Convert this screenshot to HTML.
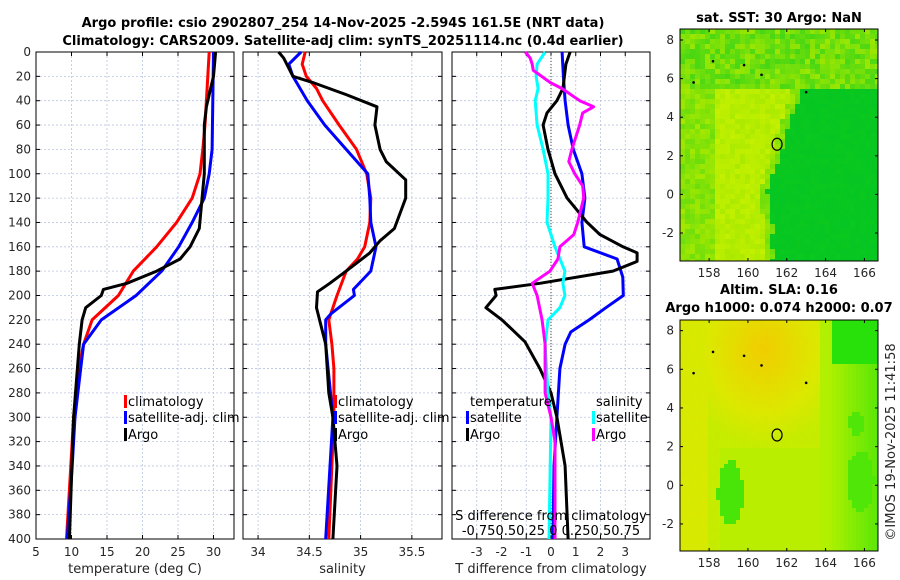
<!DOCTYPE html>
<html><head><meta charset="utf-8">
<style>
html,body{margin:0;padding:0;background:#fff;}
svg{display:block;font-family:"DejaVu Sans","Liberation Sans",sans-serif;}
.tk{font-size:12px;fill:#262626;}
.ttl{font-size:13px;font-weight:bold;fill:#000;}
.lg{font-size:13px;fill:#000;}
</style></head>
<body>
<svg id="fig" width="900" height="580" viewBox="0 0 900 580" xmlns="http://www.w3.org/2000/svg">
<text class="ttl" x="343" y="27" text-anchor="middle">Argo profile: csio 2902807_254 14-Nov-2025 -2.594S 161.5E (NRT data)</text>
<text class="ttl" x="343" y="45" text-anchor="middle">Climatology: CARS2009. Satellite-adj clim: synTS_20251114.nc (0.4d earlier)</text>
<text class="ttl" x="779" y="22" text-anchor="middle">sat. SST: 30 Argo: NaN</text>
<text class="ttl" x="779" y="294" text-anchor="middle">Altim. SLA: 0.16</text>
<text class="ttl" x="779" y="312" text-anchor="middle">Argo h1000: 0.074 h2000: 0.07</text>
<text class="tk" x="0" y="0" transform="translate(895,442) rotate(-90)" text-anchor="middle" style="font-size:13px">©IMOS 19-Nov-2025 11:41:58</text>
<g id="plots"></g>
</svg>
<script>
// ---- data (depth in m) ----
const tClimDepth = [0,20,60,80,100,120,140,160,180,200,220,240,260,300,340,400];
const tClimVals  = [29.4,29.2,28.8,28.5,28.1,27.0,24.8,22.0,18.7,16.6,12.9,11.7,11.0,10.3,9.9,9.3];
const tSatDepth  = [0,80,100,120,140,160,180,200,220,240,260,300,340,400];
const tSatVals   = [30.0,29.8,29.4,28.7,27.0,25.1,22.7,19.1,14.2,11.7,11.3,10.5,10.1,9.4];
const tArgoDepth = [0,20,30,45,60,100,145,160,170,180,190,195,200,210,220,240,300,400];
const tArgoVals  = [30.3,30.0,29.6,29.0,28.7,28.7,28.0,26.7,25.3,22.0,17.8,14.5,14.2,12.0,11.5,11.1,10.3,9.7];

const sClimDepth = [0,10,20,30,40,60,80,100,120,140,160,170,180,200,220,240,260,300,400];
const sClimVals  = [34.46,34.43,34.47,34.57,34.63,34.79,34.96,35.06,35.10,35.09,35.04,34.97,34.86,34.77,34.69,34.72,34.74,34.74,34.69];
const sSatDepth  = [0,10,20,40,60,80,100,120,140,160,180,195,200,215,220,240,300,400];
const sSatVals   = [34.42,34.30,34.34,34.48,34.65,34.86,35.07,35.09,35.10,35.15,35.10,34.93,34.94,34.71,34.66,34.66,34.73,34.66];
const sArgoDepth = [0,5,10,20,25,35,45,60,80,90,105,120,145,155,165,180,190,197,210,240,280,300,340,400];
const sArgoVals  = [34.20,34.25,34.28,34.34,34.53,34.86,35.16,35.14,35.19,35.25,35.44,35.44,35.33,35.19,35.09,34.86,34.70,34.58,34.57,34.66,34.69,34.73,34.77,34.73];

const dTSatDepth  = [0,20,40,60,80,100,120,140,160,170,185,200,210,220,230,240,260,300,340,400];
const dTSatVals   = [0.45,0.5,0.57,0.69,0.9,1.25,1.37,1.25,1.34,2.67,2.9,2.92,2.22,1.54,0.8,0.57,0.36,0.24,0.12,0.08];
const dTArgoDepth = [0,10,30,40,50,60,80,100,120,140,150,160,165,172,180,190,195,200,210,220,238,260,280,300,340,400];
const dTArgoVals  = [0.77,0.6,0.48,0.24,-0.16,-0.32,-0.12,0.16,0.65,1.46,1.98,2.91,3.48,3.48,2.5,-0.45,-2.27,-2.22,-2.63,-1.98,-1.05,-0.45,0,0.24,0.57,0.69];
const dSSatDepth  = [0,10,20,30,40,60,80,100,120,140,160,180,190,200,210,220,240,280,300,400];
const dSSatVals   = [-0.06,-0.14,-0.15,-0.13,-0.16,-0.14,-0.08,-0.03,-0.03,-0.04,0.04,0.14,0.12,0.14,0.09,-0.03,-0.06,-0.03,0,-0.02];
const dSArgoDepth = [0,5,10,15,25,30,40,45,50,60,80,90,100,110,120,140,150,160,170,180,190,200,220,240,280,300,320,400];
const dSArgoVals  = [-0.26,-0.21,-0.19,-0.18,-0.01,0.11,0.29,0.43,0.32,0.29,0.21,0.18,0.24,0.32,0.33,0.27,0.23,0.09,0.07,-0.01,-0.19,-0.14,-0.09,-0.06,-0.06,0,0.04,0.04];

const depthTicks = [0,20,40,60,80,100,120,140,160,180,200,220,240,260,280,300,320,340,360,380,400];
const tempTicks = [5,10,15,20,25,30];
const salTicks = [34,34.5,35,35.5];
const diffTicks = [-3,-2,-1,0,1,2,3];
const lonTicks = [158,160,162,164,166];
const latTicks = [8,6,4,2,0,-2];

const NS='http://www.w3.org/2000/svg';
const root=document.getElementById('plots');
function mk(tag,attrs,parent){const e=document.createElementNS(NS,tag);for(const k in attrs)e.setAttribute(k,attrs[k]);(parent||root).appendChild(e);return e;}
const Y0=52,Y1=539;
const yD=d=>Y0+(d/400)*(Y1-Y0);

function panel(name,x0,x1,vmin,vmax,xticks,xlab,showY){
  const g=mk('g',{});
  
  
  const xs=v=>x0+(v-vmin)/(vmax-vmin)*(x1-x0);
  xticks.forEach(v=>{const l=mk('line',{x1:xs(v),x2:xs(v),y1:Y0,y2:Y1,stroke:'#b8c4e0','stroke-width':0.8,'stroke-dasharray':'2,2'},g);
    });
  depthTicks.forEach(d=>{const l=mk('line',{x1:x0,x2:x1,y1:yD(d),y2:yD(d),stroke:'#b8c4e0','stroke-width':0.8,'stroke-dasharray':'2,2'},g);
    
    mk('line',{x1:x0,x2:x0+4,y1:yD(d),y2:yD(d),stroke:'#000'},g);mk('line',{x1:x1,x2:x1-4,y1:yD(d),y2:yD(d),stroke:'#000'},g);
    if(showY){const t=mk('text',{x:x0-5,y:yD(d)+4,'text-anchor':'end',class:'tk'},g);t.textContent=d;
      }});
  xticks.forEach(v=>{mk('line',{x1:xs(v),x2:xs(v),y1:Y1,y2:Y1-4,stroke:'#000'},g);mk('line',{x1:xs(v),x2:xs(v),y1:Y0,y2:Y0+4,stroke:'#000'},g);
    const t=mk('text',{x:xs(v),y:556,'text-anchor':'middle',class:'tk'},g);t.textContent=v;
    });
  const xl=mk('text',{x:(x0+x1)/2,y:573,'text-anchor':'middle',class:'tk',style:'font-size:13px'},g);xl.textContent=xlab;
  
  mk('rect',{x:x0,y:Y0,width:x1-x0,height:Y1-Y0,fill:'none',stroke:'#000','stroke-width':1},g);
  return {g,xs};
}
function line(p,depths,vals,color,name){
  const pts=depths.map((d,i)=>p.xs(vals[i]).toFixed(1)+','+yD(d).toFixed(1)).join(' ');
  const l=mk('polyline',{points:pts,fill:'none',stroke:color,'stroke-width':3,'stroke-linejoin':'round'},p.g);
  
  
}
function legendEntry(g,x,y,color,label,name){
  if(color)mk('rect',{x:x-4,y:y-11,width:3,height:13,fill:color},g);
  const t=mk('text',{x:x,y:y,class:'lg'},g);t.textContent=label;
  
  
}

const p1=panel('temperature-panel',36,234,5,32.89,tempTicks,'temperature (deg C)',true);
line(p1,tClimDepth,tClimVals,'#ff0000','temp-climatology-line');
line(p1,tSatDepth,tSatVals,'#0000ff','temp-satellite-line');
line(p1,tArgoDepth,tArgoVals,'#000000','temp-argo-line');
legendEntry(p1.g,128,406,'#ff0000','climatology','legend-entry-climatology');
legendEntry(p1.g,128,422,'#0000ff','satellite-adj. clim','legend-entry-satellite');
legendEntry(p1.g,128,439,'#000000','Argo','legend-entry-argo');

const p2=panel('salinity-panel',243,442,33.853,35.794,salTicks,'salinity',false);
line(p2,sClimDepth,sClimVals,'#ff0000','sal-climatology-line');
line(p2,sSatDepth,sSatVals,'#0000ff','sal-satellite-line');
line(p2,sArgoDepth,sArgoVals,'#000000','sal-argo-line');
legendEntry(p2.g,338,406,'#ff0000','climatology','legend-entry-climatology');
legendEntry(p2.g,338,422,'#0000ff','satellite-adj. clim','legend-entry-satellite');
legendEntry(p2.g,338,439,'#000000','Argo','legend-entry-argo');

const p3=panel('difference-panel',452,650,-4,4,diffTicks,'T difference from climatology',false);
const zl=mk('line',{x1:p3.xs(0),x2:p3.xs(0),y1:Y0,y2:Y1,stroke:'#444','stroke-width':1,'stroke-dasharray':'1,2'},p3.g);

const p3s={g:p3.g,xs:v=>p3.xs(v*4)};
line(p3,dTSatDepth,dTSatVals,'#0000ff','dT-satellite-line');
line(p3,dTArgoDepth,dTArgoVals,'#000000','dT-argo-line');
line(p3s,dSSatDepth,dSSatVals,'#00ffff','dS-satellite-line');
line(p3s,dSArgoDepth,dSArgoVals,'#ff00ff','dS-argo-line');
legendEntry(p3.g,470,406,null,'temperature','legend-title-temperature');
legendEntry(p3.g,470,422,'#0000ff','satellite','legend-entry-t-satellite');
legendEntry(p3.g,470,439,'#000000','Argo','legend-entry-t-argo');
legendEntry(p3.g,596,406,null,'salinity','legend-title-salinity');
legendEntry(p3.g,596,422,'#00ffff','satellite','legend-entry-s-satellite');
legendEntry(p3.g,596,439,'#ff00ff','Argo','legend-entry-s-argo');
{const t=mk('text',{x:551,y:520,'text-anchor':'middle',class:'lg'},p3.g);t.textContent='S difference from climatology';
 
 const t2=mk('text',{x:551,y:535,'text-anchor':'middle',class:'lg'},p3.g);t2.textContent='-0.750.50.25 0 0.250.50.75';
 }

// maps (background imagery texture)
function hash(i,j){let h=(i*374761393+j*668265263)|0;h=Math.imul(h^(h>>>13),1274126177);h^=h>>>16;return (h>>>0)/4294967296;}
function mix(a,b,t){t=Math.max(0,Math.min(1,t));return a.map((v,k)=>Math.round(v+(b[k]-v)*t));}
function map(name,y0,y1,latTop,latBot,colorFn,cell){
  const x0=680,x1=878,lonL=156.5,lonR=166.7;
  const g=mk('g',{});
  
  
  const xs=l=>x0+(l-lonL)/(lonR-lonL)*(x1-x0);
  const ys=l=>y0+(latTop-l)/(latTop-latBot)*(y1-y0);
  for(let y=y0,j=0;y<y1;y+=cell,j++)for(let x=x0,i=0;x<x1;x+=cell,i++){
    const lon=lonL+(x-x0+cell/2)/(x1-x0)*(lonR-lonL),lat=latTop-(y-y0+cell/2)/(y1-y0)*(latTop-latBot);
    const c=colorFn(lon,lat,hash(i,j));
    mk('rect',{x:x,y:y,width:Math.min(cell,x1-x)+0.3,height:Math.min(cell,y1-y)+0.3,fill:'rgb('+c.join(',')+')'},g);
  }
  [[158.2,6.9],[159.8,6.7],[160.7,6.2],[157.2,5.8],[163,5.3]].forEach(p=>mk('circle',{cx:xs(p[0]),cy:ys(p[1]),r:1.3,fill:'#000'},g));
  const m=mk('ellipse',{cx:xs(161.5),cy:ys(2.6),rx:5,ry:6,fill:'none',stroke:'#000','stroke-width':1.2},g);
  
  mk('rect',{x:x0,y:y0,width:x1-x0,height:y1-y0,fill:'none',stroke:'#000'},g);
  lonTicks.forEach(v=>{mk('line',{x1:xs(v),x2:xs(v),y1:y1,y2:y1-3,stroke:'#000'},g);mk('line',{x1:xs(v),x2:xs(v),y1:y0,y2:y0+3,stroke:'#000'},g);
    const t=mk('text',{x:xs(v),y:y1+16,'text-anchor':'middle',class:'tk'},g);t.textContent=v;
    });
  latTicks.forEach(v=>{mk('line',{x1:x0,x2:x0+3,y1:ys(v),y2:ys(v),stroke:'#000'},g);mk('line',{x1:x1,x2:x1-3,y1:ys(v),y2:ys(v),stroke:'#000'},g);
    const t=mk('text',{x:x0-6,y:ys(v)+4,'text-anchor':'end',class:'tk'},g);t.textContent=v;
    });
}
const LIME=[165,232,0],DG=[10,200,30],MG=[70,215,20],BRIGHT=[195,240,0],ORG=[240,205,0],YEL=[220,232,0],LG=[175,240,0],BG=[40,225,10];
map('sst-map',29,261,8.57,-3.45,(lon,lat,r)=>{
  if(lat>5.5){ return mix(MG,LIME,r*0.9); }
  const b = lat>0 ? 161.0+lat*0.3 : 161.1 - lat*0.05;
  if(lon>b+ (r-0.5)*0.3) return mix(DG,[0,195,40],r*0.5);
  if(lon>158.3 && lon<b-0.4) return mix(BRIGHT,LIME,r*0.8);
  return mix(LIME,MG,r*0.6);
},5);
map('sla-map',320,551,8.55,-3.4,(lon,lat,r)=>{
  const n=(r-0.5)*0.06;
  const dtop=Math.hypot((lon-160.8)/2.4,(lat-7.0)/2.8);
  let t=Math.min(1.5,dtop*0.85)+n;
  if(lon<158) t=Math.min(t,1.1+n);
  if(lon>163.8) t=Math.max(t,1.9+(lon-163.8)*0.25);
  if(lon>164.3 && lat>6.3) t=3;
  if(Math.hypot((lon-159.1)/0.65,(lat+0.4)/1.7)<1) t=2.75;
  if(Math.hypot((lon-165.8)/0.7,(lat-0.2)/1.6)<1) t=2.7;
  if(Math.hypot((lon-165.6)/0.4,(lat-3.2)/0.6)<1) t=2.7;
  if(lat<2 && lon>158.5 && lon<164.5) t=Math.max(t,1.75);
  t=Math.max(0,Math.min(3,t));
  if(t<1)return mix(ORG,YEL,t); if(t<2)return mix(YEL,LG,t-1); return mix(LG,BG,t-2);
},4);
</script>
</body></html>
